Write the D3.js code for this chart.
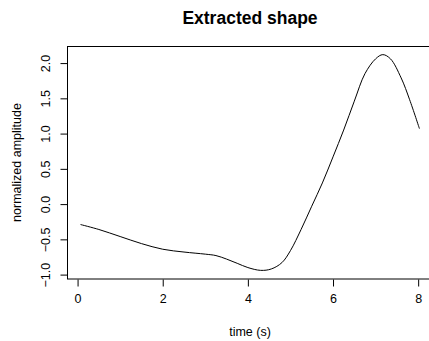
<!DOCTYPE html>
<html>
<head>
<meta charset="utf-8">
<script src="https://cdn.jsdelivr.net/npm/d3@7"></script>
<style>
  body { margin: 0; background: #fff; }
  text { font-family: "Liberation Sans", Arial, sans-serif; fill: #000; }
</style>
</head>
<body>
<svg id="chart" width="429" height="341"></svg>
<script>
// values
var time = [0.07, 0.5, 1.0, 1.5, 2.0, 2.5, 3.0, 3.25, 3.5, 3.75, 4.0, 4.3, 4.55,
            4.8, 5.0, 5.25, 5.5, 5.75, 6.0, 6.25, 6.5, 6.75, 7.0, 7.17, 7.35, 7.6, 7.8, 8.03];
var amplitude = [-0.29, -0.36, -0.46, -0.56, -0.64, -0.68, -0.71, -0.73, -0.78, -0.84, -0.90, -0.94, -0.92,
                 -0.83, -0.66, -0.36, -0.03, 0.30, 0.67, 1.05, 1.46, 1.85, 2.06, 2.12, 2.06, 1.79, 1.48, 1.07];
var xTicks = [0, 2, 4, 6, 8];
var yTicks = [-1.0, -0.5, 0.0, 0.5, 1.0, 1.5, 2.0];

var svg = d3.select("#chart");
var margin = { top: 46, right: -4, bottom: 62, left: 67 };
var width = 429 - margin.left - margin.right;
var height = 341 - margin.top - margin.bottom;

// R style 4% padding around the data range
function pad(ext) {
  var r = ext[1] - ext[0];
  return [ext[0] - 0.04 * r, ext[1] + 0.04 * r];
}

var x = d3.scaleLinear().domain(pad(d3.extent(time))).range([0, width]);
var y = d3.scaleLinear().domain(pad(d3.extent(amplitude))).range([height, 0]);

var g = svg.append("g")
  .attr("transform", "translate(" + margin.left + "," + margin.top + ")");

// box
g.append("rect")
  .attr("x", 0.5).attr("y", 0.5)
  .attr("width", width).attr("height", height - 0.5)
  .attr("fill", "none").attr("stroke", "#000").attr("stroke-width", 1);

// x axis
var xAxis = g.append("g")
  .attr("transform", "translate(0," + (height + 0.5) + ")")
  .call(d3.axisBottom(x).tickValues(xTicks).tickSize(7).tickPadding(8).tickFormat(d3.format("d")));
xAxis.select(".domain").remove();
xAxis.selectAll("text").attr("font-size", 12.5).style("font-family", "Liberation Sans, Arial, sans-serif");

// y axis, labels rotated like R's las=0
var yAxis = g.append("g")
  .attr("transform", "translate(0.5,0)")
  .call(d3.axisLeft(y).tickValues(yTicks).tickSize(7).tickFormat(d3.format(".1f")));
yAxis.select(".domain").remove();
yAxis.selectAll(".tick text")
  .attr("font-size", 12.5)
  .style("font-family", "Liberation Sans, Arial, sans-serif")
  .attr("text-anchor", "middle")
  .attr("x", 0).attr("dy", "0.35em")
  .attr("transform", "translate(-22,0) rotate(-90)");

// curve
var line = d3.line()
  .x(function (d, i) { return x(time[i]); })
  .y(function (d) { return y(d); })
  .curve(d3.curveCatmullRom);

g.append("path")
  .datum(amplitude)
  .attr("d", line)
  .attr("fill", "none")
  .attr("stroke", "#000")
  .attr("stroke-width", 1);

// titles
svg.append("text")
  .attr("x", margin.left + width / 2).attr("y", 23.5)
  .attr("text-anchor", "middle")
  .attr("font-size", 17.5).attr("font-weight", "bold")
  .text("Extracted shape");

svg.append("text")
  .attr("x", margin.left + width / 2).attr("y", 336)
  .attr("text-anchor", "middle")
  .attr("font-size", 12.5)
  .text("time (s)");

svg.append("text")
  .attr("transform", "translate(21," + (margin.top + height / 2) + ") rotate(-90)")
  .attr("text-anchor", "middle")
  .attr("font-size", 12.5)
  .text("normalized amplitude");
</script>
</body>
</html>
